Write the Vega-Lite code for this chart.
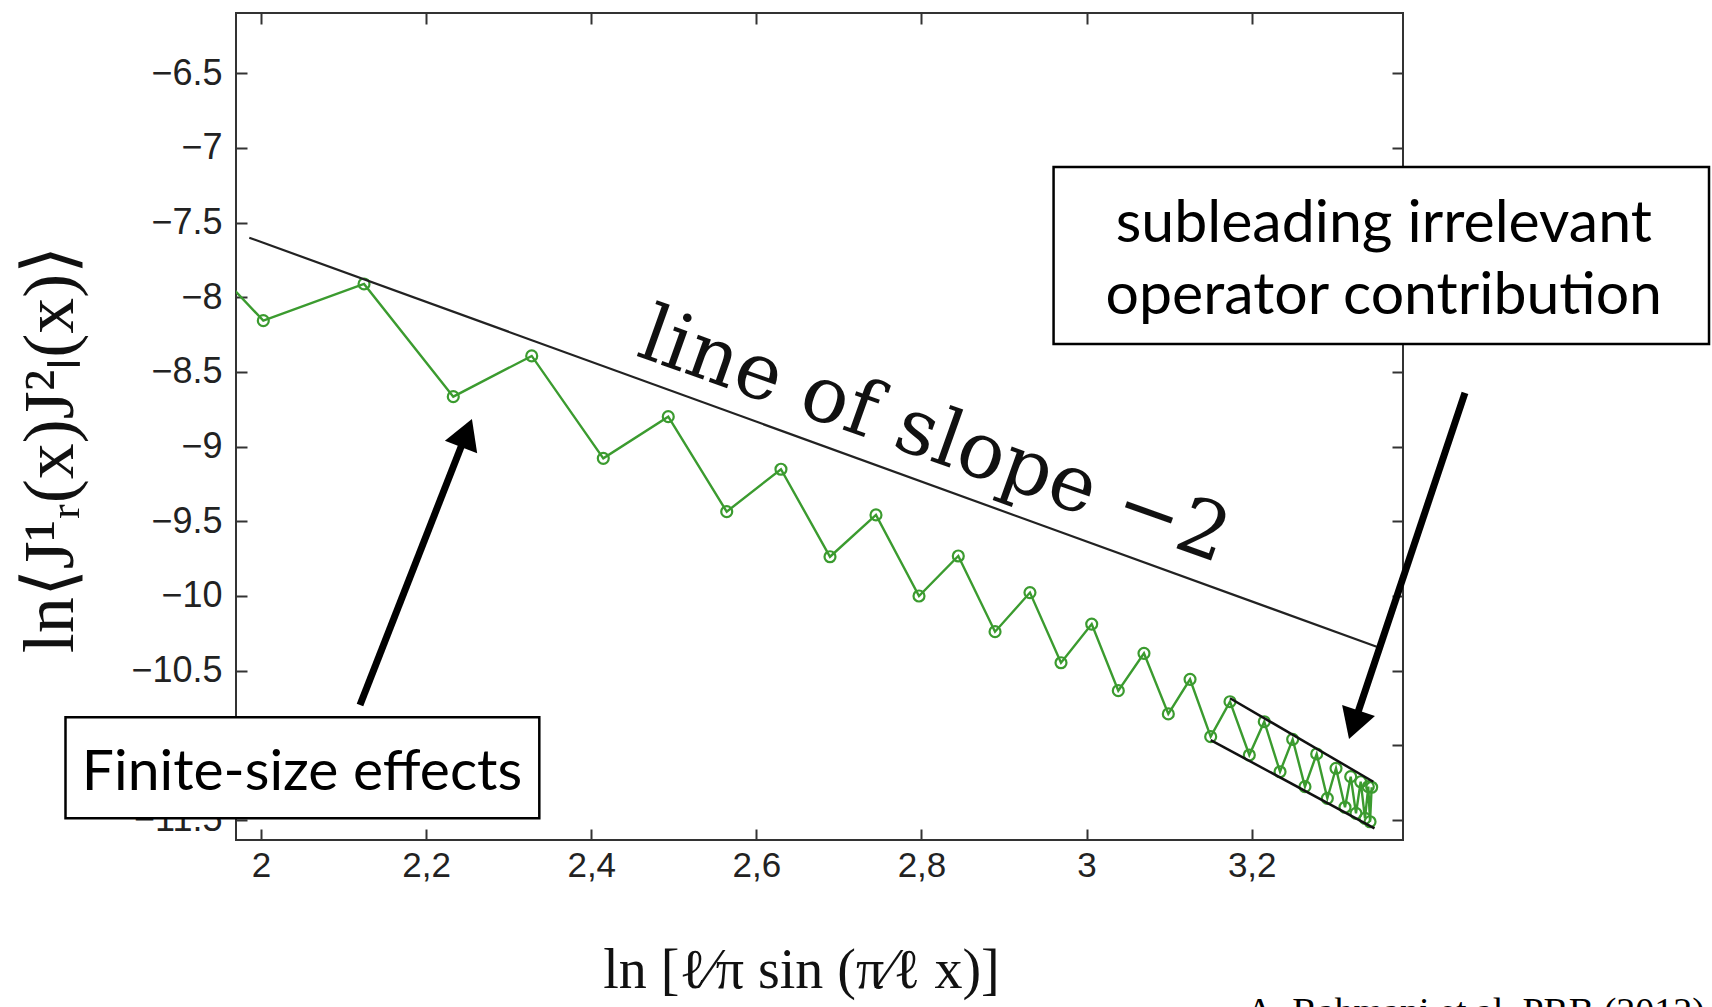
{
  "$schema": "https://vega.github.io/schema/vega-lite/v6.json",
  "width": 1167,
  "height": 827,
  "autosize": {"type": "none"},
  "padding": {"left": 236, "top": 13, "right": 309, "bottom": 167},
  "background": "white",
  "config": {
    "view": {"stroke": "#333333", "strokeWidth": 2},
    "axis": {
      "domain": false,
      "grid": false,
      "ticks": true,
      "tickSize": -11,
      "tickColor": "#333333",
      "tickWidth": 2,
      "labelFont": "Liberation Sans",
      "labelFontSize": 35,
      "labelColor": "#222222",
      "labelOverlap": false,
      "labelFlush": false
    }
  },
  "resolve": {"axis": {"x": "independent", "y": "independent"}},
  "encoding": {
    "x": {"field": "x", "type": "quantitative", "scale": {"domain": [1.96972, 3.38324], "nice": false, "zero": false}, "axis": null},
    "y": {"field": "y", "type": "quantitative", "scale": {"domain": [-11.6353, -6.0961], "nice": false, "zero": false}, "axis": null}
  },
  "layer": [
    {
      "data": {"name": "series", "values": [
        {"x": 1.9443, "y": -7.815},
        {"x": 2.0028, "y": -8.157},
        {"x": 2.1248, "y": -7.911},
        {"x": 2.2329, "y": -8.666},
        {"x": 2.3279, "y": -8.393},
        {"x": 2.4146, "y": -9.079},
        {"x": 2.4933, "y": -8.800},
        {"x": 2.5641, "y": -9.436},
        {"x": 2.6298, "y": -9.152},
        {"x": 2.6892, "y": -9.738},
        {"x": 2.7449, "y": -9.458},
        {"x": 2.7970, "y": -10.001},
        {"x": 2.8446, "y": -9.733},
        {"x": 2.8891, "y": -10.240},
        {"x": 2.9314, "y": -9.978},
        {"x": 2.9690, "y": -10.448},
        {"x": 3.0062, "y": -10.189},
        {"x": 3.0384, "y": -10.635},
        {"x": 3.0695, "y": -10.385},
        {"x": 3.0990, "y": -10.791},
        {"x": 3.1253, "y": -10.559},
        {"x": 3.1503, "y": -10.943},
        {"x": 3.1737, "y": -10.709},
        {"x": 3.1971, "y": -11.066},
        {"x": 3.2152, "y": -10.843},
        {"x": 3.2343, "y": -11.178},
        {"x": 3.2496, "y": -10.961},
        {"x": 3.2645, "y": -11.278},
        {"x": 3.2787, "y": -11.059},
        {"x": 3.2916, "y": -11.356},
        {"x": 3.3021, "y": -11.155},
        {"x": 3.3130, "y": -11.416},
        {"x": 3.3199, "y": -11.211},
        {"x": 3.3263, "y": -11.457},
        {"x": 3.3320, "y": -11.245},
        {"x": 3.3372, "y": -11.490},
        {"x": 3.3412, "y": -11.278},
        {"x": 3.3433, "y": -11.513},
        {"x": 3.3453, "y": -11.282}
      ]},
      "mark": {"type": "line", "color": "#3b9b2f", "strokeWidth": 2.4, "clip": true},
      "encoding": {
        "x": {"field": "x", "type": "quantitative", "scale": {"domain": [1.96972, 3.38324], "nice": false, "zero": false},
          "axis": {"orient": "bottom", "values": [2, 2.2, 2.4, 2.6, 2.8, 3, 3.2], "format": "~g",
            "labelExpr": "replace(datum.label, '.', ',')", "labelPadding": 19, "labelBaseline": "top",
            "title": "ln [ℓ⁄π sin (π⁄ℓ x)]", "titleFont": "Liberation Serif", "titleFontSize": 56, "titleFontWeight": "normal",
            "titleColor": "#111111", "titleX": 565, "titleY": 147, "titleAlign": "center", "titleBaseline": "alphabetic"}},
        "y": {"field": "y", "type": "quantitative", "scale": {"domain": [-11.6353, -6.0961], "nice": false, "zero": false},
          "axis": {"orient": "left", "values": [-11.5, -11, -10.5, -10, -9.5, -9, -8.5, -8, -7.5, -7, -6.5], "format": "~g",
            "labelExpr": "datum.value == -11 ? '' : datum.label",
            "labelPadding": 25, "labelFontSize": 36,
            "title": "ln⟨J¹ᵣ(x)J²ₗ(x)⟩", "titleFont": "Liberation Serif", "titleFontSize": 72, "titleFontWeight": "normal",
            "titleColor": "#111111", "titleX": -186, "titleY": 436, "titleAngle": -90, "titleAlign": "center", "titleBaseline": "middle"}}
      }
    },
    {
      "data": {"name": "series"},
      "mark": {"type": "point", "shape": "circle", "filled": false, "color": "#3b9b2f", "strokeWidth": 2.2, "size": 120, "opacity": 1, "clip": true},
      "encoding": {
        "x": {"field": "x", "type": "quantitative", "scale": {"domain": [1.96972, 3.38324], "nice": false, "zero": false},
          "axis": {"orient": "top", "values": [2, 2.2, 2.4, 2.6, 2.8, 3, 3.2], "labels": false, "title": null}},
        "y": {"field": "y", "type": "quantitative", "scale": {"domain": [-11.6353, -6.0961], "nice": false, "zero": false},
          "axis": {"orient": "right", "values": [-11.5, -11, -10.5, -10, -9.5, -9, -8.5, -8, -7.5, -7, -6.5], "labels": false, "title": null}}
      }
    },
    {
      "data": {"values": [
        {"x": 1.9858, "y": -7.601, "x2": 3.3514, "y2": -10.341}
      ]},
      "mark": {"type": "rule", "color": "#222222", "strokeWidth": 2.2},
      "encoding": {"x2": {"field": "x2"}, "y2": {"field": "y2"}}
    },
    {
      "data": {"values": [
        {"x": 3.1737, "y": -10.686, "x2": 3.3473, "y2": -11.245},
        {"x": 3.1503, "y": -10.966, "x2": 3.3487, "y2": -11.557}
      ]},
      "mark": {"type": "rule", "color": "#111111", "strokeWidth": 2.5},
      "encoding": {"x2": {"field": "x2"}, "y2": {"field": "y2"}}
    },
    {
      "data": {"values": [
        {"x": 2.8060, "y": -9.085, "text": "line of slope −2"}
      ]},
      "mark": {"type": "text", "font": "DejaVu Serif", "fontSize": 78, "angle": 19.6, "align": "center", "baseline": "alphabetic", "color": "#111111"},
      "encoding": {"text": {"field": "text"}}
    },
    {
      "data": {"values": [
        {"x": 2.960, "x2": 3.7539, "y": -7.128, "y2": -8.313},
        {"x": 1.7632, "x2": 2.3371, "y": -10.813, "y2": -11.490}
      ]},
      "mark": {"type": "rect", "fill": "white", "stroke": "black", "strokeWidth": 2.5},
      "encoding": {"x2": {"field": "x2"}, "y2": {"field": "y2"}}
    },
    {
      "data": {"values": [
        {"x": 3.360, "y": -7.630, "text": "subleading irrelevant"},
        {"x": 3.360, "y": -8.112, "text": "operator contribution"}
      ]},
      "mark": {"type": "text", "font": "Lato", "fontSize": 59, "align": "center", "baseline": "alphabetic", "color": "black"},
      "encoding": {"text": {"field": "text"}}
    },
    {
      "data": {"values": [
        {"x": 2.0497, "y": -11.300, "text": "Finite-size effects"}
      ]},
      "mark": {"type": "text", "font": "Lato", "fontSize": 57, "align": "center", "baseline": "alphabetic", "color": "black"},
      "encoding": {"text": {"field": "text"}}
    },
    {
      "data": {"values": [
        {"x": 2.1199, "y": -10.731, "x2": 2.2489, "y2": -8.909},
        {"x": 3.4583, "y": -8.641, "x2": 3.3236, "y2": -10.864}
      ]},
      "mark": {"type": "rule", "color": "black", "strokeWidth": 7},
      "encoding": {"x2": {"field": "x2"}, "y2": {"field": "y2"}}
    },
    {
      "data": {"values": [{"x": 2.2489, "y": -8.909}]},
      "mark": {"type": "point", "shape": "triangle-up", "filled": true, "color": "black", "size": 1200, "angle": 21.3, "opacity": 1},
      "encoding": {}
    },
    {
      "data": {"values": [{"x": 3.3236, "y": -10.864}]},
      "mark": {"type": "point", "shape": "triangle-up", "filled": true, "color": "black", "size": 1200, "angle": 198.5, "opacity": 1},
      "encoding": {}
    },
    {
      "data": {"values": [
        {"x": 3.471, "y": -12.868, "text": "A. Rahmani et al. PRB (2012)"}
      ]},
      "mark": {"type": "text", "font": "Liberation Serif", "fontSize": 38, "align": "center", "baseline": "alphabetic", "color": "black"},
      "encoding": {"text": {"field": "text"}}
    }
  ]
}
